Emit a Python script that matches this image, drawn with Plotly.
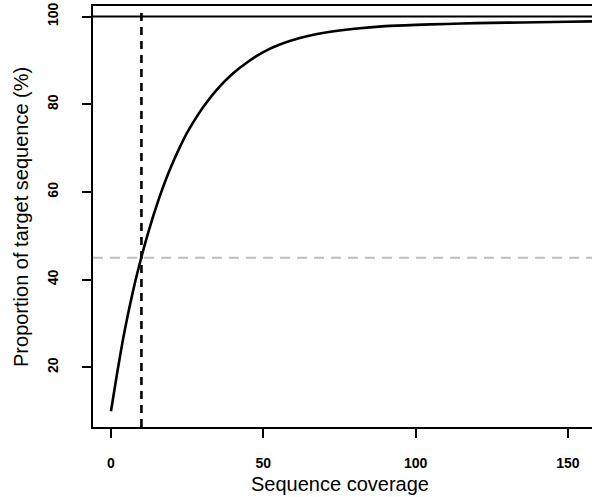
import plotly.graph_objects as go

# Data
coverage = [0, 2, 4, 6, 8, 10, 12, 14, 16, 18, 20, 22, 25, 28, 30, 35, 40, 45,
            50, 55, 60, 65, 70, 80, 90, 100, 110, 120, 130, 140, 150, 158]
proportion = [10, 18.6, 26.6, 33.5, 39.7, 45.2, 50.2, 54.8, 59.0, 62.8, 66.2,
              69.3, 73.5, 77.0, 79.1, 83.5, 87.0, 89.7, 91.9, 93.5, 94.7, 95.6,
              96.3, 97.2, 97.8, 98.1, 98.3, 98.5, 98.6, 98.7, 98.8, 98.9]
x_ticks = [0, 50, 100, 150]
y_ticks = [20, 40, 60, 80, 100]
ref_max = 100
ref_cov = 10
ref_prop = 45

FONT = "Liberation Sans, Arial, sans-serif"

fig = go.Figure()
fig.add_trace(go.Scatter(x=coverage, y=proportion, mode="lines",
                         line=dict(color="black", width=2.6, shape="spline", smoothing=0.5),
                         showlegend=False))

fig.add_shape(type="line", xref="paper", yref="y", x0=0, x1=1, y0=ref_max, y1=ref_max,
              line=dict(color="black", width=2))
fig.add_shape(type="line", xref="paper", yref="y", x0=0, x1=1, y0=ref_prop, y1=ref_prop,
              line=dict(color="#bdbdbd", width=2, dash="10px,7px"))
fig.add_shape(type="line", xref="x", yref="y", x0=ref_cov, x1=ref_cov, y0=6.4, y1=ref_max + 0.9,
              line=dict(color="black", width=2.6, dash="8px,6px"))

fig.add_annotation(text="Sequence coverage", xref="paper", yref="paper",
                   x=0.495, y=-0.1354, xanchor="center", yanchor="middle",
                   showarrow=False, font=dict(size=20, family=FONT, color="black"))
fig.add_annotation(text="Proportion of target sequence (%)", xref="paper", yref="paper",
                   x=-0.1453, y=0.5, xanchor="center", yanchor="middle", textangle=-90,
                   showarrow=False, font=dict(size=20, family=FONT, color="black"))

fig.update_layout(
    width=592, height=497,
    margin=dict(l=93, r=0, t=6, b=70),
    plot_bgcolor="white", paper_bgcolor="white",
    font=dict(family=FONT, color="black"),
    xaxis=dict(range=[-5.9, 157.9], tickvals=x_ticks, ticktext=[str(v) for v in x_ticks],
               showgrid=False, zeroline=False, showline=True, linecolor="black", linewidth=2,
               mirror=True, ticks="outside", ticklen=9, tickwidth=1.5, tickcolor="black",
               ticklabelstandoff=13,
               tickfont=dict(size=14, family=FONT, weight="bold")),
    yaxis=dict(range=[6.4, 102.4], tickvals=y_ticks, ticktext=[str(v) for v in y_ticks],
               showgrid=False, zeroline=False, showline=True, linecolor="black", linewidth=2,
               ticks="outside", ticklen=9, tickwidth=1.5, tickcolor="black", tickangle=-90,
               ticklabelstandoff=18,
               tickfont=dict(size=14, family=FONT, weight="bold")),
)

fig.write_html("out.html")
